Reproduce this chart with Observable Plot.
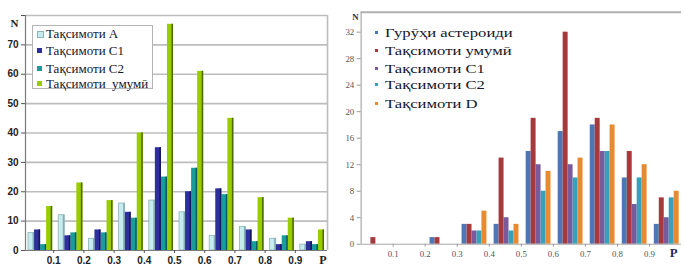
<!DOCTYPE html>
<html><head><meta charset="utf-8">
<script src="https://cdn.jsdelivr.net/npm/d3@7"></script>
<script src="https://cdn.jsdelivr.net/npm/@observablehq/plot@0.6"></script>
<style>
html,body{margin:0;padding:0;background:#fff;}
#wrap{position:relative;width:684px;height:266px;overflow:hidden;background:#fff;}
#left,#right{position:absolute;top:0;}
#left{left:0;}
#right{left:340px;}
.lbox{position:absolute;left:32px;top:25px;width:119px;height:62px;border:1px solid #b4b4b4;background:#fff;}
.item{position:absolute;font-family:"Liberation Serif","DejaVu Serif",serif;color:#15152a;white-space:pre;line-height:1;transform-origin:0 50%;}
.sw{position:absolute;}
</style>
</head>
<body>
<div id="wrap">
  <div id="left"></div>
  <div id="right"></div>
  <div class="lbox" id="lleg"></div>
  <div id="rleg"></div>
</div>
<script>
// ---------- data ----------
const binStarts = [0, 0.1, 0.2, 0.3, 0.4, 0.5, 0.6, 0.7, 0.8, 0.9];
const xTicks = [0.1, 0.2, 0.3, 0.4, 0.5, 0.6, 0.7, 0.8, 0.9];
const xTickLabels = ["0.1", "0.2", "0.3", "0.4", "0.5", "0.6", "0.7", "0.8", "0.9"];

// left chart
const leftNames = ["Тақсимоти А", "Тақсимоти С1", "Тақсимоти С2", "Тақсимоти  умумӣ"];
const leftA     = [6, 12, 4, 16, 17, 13, 5, 8, 4, 2];
const leftC1    = [7, 5, 7, 13, 35, 20, 21, 7, 2, 3];
const leftC2    = [2, 6, 6, 11, 25, 28, 19, 3, 5, 2];
const leftTotal = [15, 23, 17, 40, 77, 61, 45, 18, 11, 7];
const leftYTicks = [0, 10, 20, 30, 40, 50, 60, 70, 80];

// right chart
const rightNames = ["Гурӯҳи астероиди", "Тақсимоти умумӣ", "Тақсимоти С1", "Тақсимоти С2", "Тақсимоти D"];
const rightGroup = [0, 0, 1, 3, 3, 14, 17, 18, 10, 3];
const rightTotal = [1, 0, 1, 3, 13, 19, 32, 19, 14, 7];
const rightC1    = [0, 0, 0, 2, 4, 12, 12, 14, 6, 4];
const rightC2    = [0, 0, 0, 2, 2, 8, 10, 14, 10, 7];
const rightD     = [0, 0, 0, 5, 3, 11, 13, 18, 12, 8];
const rightYTicks = [0, 4, 8, 12, 16, 20, 24, 28, 32];

// ---------- styles ----------
const leftFace = ["#c6ecef", "#2e2e9e", "#189c9c", "#9acd00"];
const leftSide = ["#86aeb2", "#16165a", "#0c5c5c", "#4d6800"];
const leftEdge = ["#8fb3b6", "none", "none", "none"];
const rightCol = ["#4a78b6", "#a5393c", "#7b5a9b", "#39a0b9", "#e88a30"];
const binW = 0.1;

// build left rows
const leftSeries = [leftA, leftC1, leftC2, leftTotal];
const leftRows = [];
leftSeries.forEach((vals, si) => vals.forEach((v, bi) => {
  const x1 = binStarts[bi] + binW * (0.1 + si * 0.2);
  leftRows.push({x1, x2: x1 + binW * 0.2, xs: x1 + binW * 0.2 - binW * 0.05, v, si});
}));

const L = Plot.plot({
  width: 340, height: 266,
  marginLeft: 25, marginRight: 13, marginTop: 15, marginBottom: 16,
  x: {domain: [0, 1]},
  y: {domain: [0, 80]},
  style: {background: "transparent", fontFamily: "Liberation Sans, Arial, sans-serif", overflow: "visible"},
  marks: [
    Plot.gridY(leftYTicks.filter(d => d > 0), {stroke: "#bdbdbd", strokeOpacity: 1, strokeWidth: 1.6}),
    Plot.ruleX([1], {stroke: "#bdbdbd", strokeWidth: 1.6}),
    Plot.rect(leftRows, {x1: "x1", x2: "x2", y1: 0, y2: "v", fill: d => leftFace[d.si],
      stroke: d => leftEdge[d.si], strokeWidth: 0.8, inset: 0}),
    Plot.rect(leftRows, {x1: "xs", x2: "x2", y1: 0, y2: "v", fill: d => leftSide[d.si], inset: 0}),
    Plot.ruleY([0], {stroke: "#7a7a7a", strokeWidth: 1.2}),
    Plot.ruleX([0], {stroke: "#7a7a7a", strokeWidth: 1.2}),
    Plot.axisY({ticks: leftYTicks, tickSize: 4, tickPadding: 3, stroke: "#555",
      tickFormat: d => d === 80 ? "" : String(d), fontSize: 10, fontWeight: "bold", fill: "#222", label: null}),
    Plot.axisX({ticks: xTicks, tickSize: 3, tickPadding: 3, stroke: "#555",
      tickFormat: (d, i) => xTickLabels[i], fontSize: 10, fontWeight: "bold", fill: "#222", dx: -2, label: null}),
    Plot.text(["N"], {frameAnchor: "top-left", dx: -15, dy: 4, fontFamily: "Liberation Serif, serif",
      fontWeight: "bold", fontSize: 11, fill: "#222"}),
    Plot.text(["P"], {frameAnchor: "bottom-right", dx: -1, dy: 13, fontFamily: "Liberation Serif, serif",
      fontWeight: "bold", fontSize: 12, fill: "#222"})
  ]
});
document.getElementById("left").appendChild(L);

// build right rows
const rightSeries = [rightGroup, rightTotal, rightC1, rightC2, rightD];
const rightRows = [];
rightSeries.forEach((vals, si) => vals.forEach((v, bi) => {
  if (v <= 0) return;
  const x1 = binStarts[bi] + binW * (0.15 + si * 0.155);
  rightRows.push({x1, x2: x1 + binW * 0.155, v, si});
}));

const R = Plot.plot({
  width: 350, height: 266,
  marginLeft: 21, marginRight: 3, marginTop: 12, marginBottom: 18,
  x: {domain: [0, 1]},
  y: {domain: [0, 35]},
  style: {background: "transparent", fontFamily: "Liberation Serif, serif", overflow: "visible"},
  marks: [
    Plot.ruleY([35], {stroke: "#b0b0b0", strokeWidth: 2}),
    Plot.rect(rightRows, {x1: "x1", x2: "x2", y1: 0, y2: "v", fill: d => rightCol[d.si], inset: 0}),
    Plot.ruleY([0], {stroke: "#a8a8a8", strokeWidth: 1.2}),
    Plot.ruleX([0], {stroke: "#a8a8a8", strokeWidth: 1.2}),
    Plot.axisY({ticks: rightYTicks, tickSize: 4, tickPadding: 3, stroke: "#999",
      fontSize: 9, fill: "#555", label: null}),
    Plot.axisX({ticks: xTicks, tickSize: 3, tickPadding: 4, stroke: "#999",
      tickFormat: (d, i) => xTickLabels[i], fontSize: 9, fill: "#555", label: null}),
    Plot.text(["N"], {frameAnchor: "top-left", dx: -9, dy: 1, fontWeight: "bold", fontSize: 9, fill: "#333"}),
    Plot.text(["P"], {frameAnchor: "bottom-right", dx: -4, dy: 13, fontWeight: "bold", fontSize: 13, fill: "#2a2a55"})
  ]
});
document.getElementById("right").appendChild(R);

// legends (HTML)
const lleg = document.getElementById("lleg");
const lY = [8, 25, 43, 58];
leftNames.forEach((n, i) => {
  const sw = document.createElement("div");
  sw.className = "sw";
  Object.assign(sw.style, {left: "4px", top: (lY[i] - 3) + "px", width: "5px", height: "5px",
    background: leftFace[i], border: i === 0 ? "1px solid #8db4b8" : "none"});
  lleg.appendChild(sw);
  const t = document.createElement("div");
  t.className = "item";
  Object.assign(t.style, {left: "13px", top: (lY[i] - 7) + "px", fontSize: "13px"});
  t.textContent = n;
  lleg.appendChild(t);
});
const rleg = document.getElementById("rleg");
const rY = [33, 51, 69, 85, 104];
rightNames.forEach((n, i) => {
  const sw = document.createElement("div");
  sw.className = "sw";
  Object.assign(sw.style, {left: "375px", top: (rY[i] - 2) + "px", width: "3px", height: "3px", background: rightCol[i]});
  rleg.appendChild(sw);
  const t = document.createElement("div");
  t.className = "item";
  Object.assign(t.style, {left: "385px", top: (rY[i] - 7) + "px", fontSize: "13px", transform: "scaleX(1.28)"});
  t.textContent = n;
  rleg.appendChild(t);
});
</script>
</body></html>
